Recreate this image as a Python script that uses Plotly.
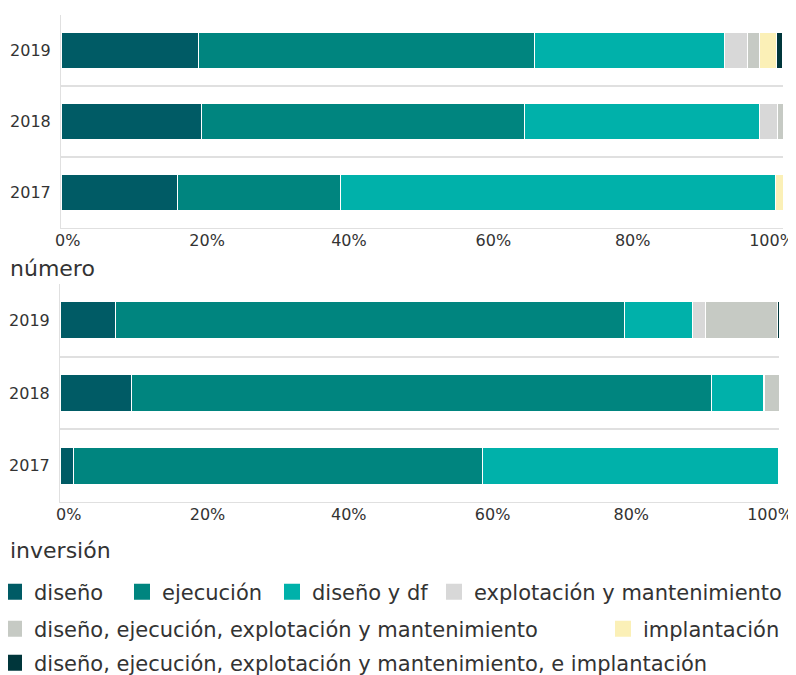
import plotly.graph_objects as go

# ---------------- data ----------------
years = ["2017", "2018", "2019"]
series_names = [
    "diseño",
    "ejecución",
    "diseño y df",
    "explotación y mantenimiento",
    "diseño, ejecución, explotación y mantenimiento",
    "implantación",
    "diseño, ejecución, explotación y mantenimiento, e implantación",
]
colors = ["#005b65", "#00857f", "#00b1aa", "#d8d8d8", "#c6cac4", "#fbf0b7", "#00363b"]

# "número" panel (% of count), order 2017, 2018, 2019
numero_diseno = [16.1, 19.4, 19.1]
numero_ejecucion = [22.6, 44.8, 46.5]
numero_diseno_df = [60.3, 32.6, 26.3]
numero_explotacion = [0.0, 2.5, 3.2]
numero_dee = [0.0, 0.7, 1.6]
numero_implantacion = [1.0, 0.0, 2.4]
numero_todo = [0.0, 0.0, 0.8]

# "inversión" panel (% of investment)
inversion_diseno = [1.85, 9.9, 7.7]
inversion_ejecucion = [56.9, 80.7, 70.8]
inversion_diseno_df = [41.2, 7.2, 9.4]
inversion_explotacion = [0.0, 0.2, 1.85]
inversion_dee = [0.0, 2.0, 10.0]
inversion_implantacion = [0.0, 0.0, 0.1]
inversion_todo = [0.0, 0.0, 0.15]

NB = "\u00a0"
tick_values = [0, 20, 40, 60, 80, 100]
tick_labels = [NB * 7 + "0%", NB * 5 + "20%", NB * 4 + "40%", NB * 4 + "60%", NB * 2 + "80%", "100%"]
panel_titles = ["número", "inversión"]

numero = [numero_diseno, numero_ejecucion, numero_diseno_df, numero_explotacion,
          numero_dee, numero_implantacion, numero_todo]
inversion = [inversion_diseno, inversion_ejecucion, inversion_diseno_df,
             inversion_explotacion, inversion_dee, inversion_implantacion, inversion_todo]

# ---------------- layout helpers ----------------
# page is 796x675, html body has an 8px margin -> figure is 788x667 at (8, 8)
OFF = 8
W, H = 796 - OFF, 675 - OFF
FONT = "DejaVu Sans"
TXT = "#333333"
GRID = "#e0e0e0"


def px(x):  # page pixel -> paper fraction
    return (x - OFF) / W


def py(y):
    return 1 - (y - OFF) / H


legend_ids = ["legend", "legend2", "legend3", "legend4", "legend5", "legend6", "legend7"]
legend_pos = [(-6, 592), (122, 592), (272, 592), (434, 592), (-6, 629), (603, 629), (-6, 663)]

fig = go.Figure()

for i, name in enumerate(series_names):
    fig.add_trace(go.Bar(
        y=years, x=numero[i], orientation="h", name=name,
        marker=dict(color=colors[i], line=dict(color="white", width=1)),
        xaxis="x", yaxis="y", showlegend=False,
        hovertemplate="%{y}: %{x:.1f}%<extra>" + name + "</extra>",
    ))
for i, name in enumerate(series_names):
    fig.add_trace(go.Bar(
        y=years, x=inversion[i], orientation="h", name=name,
        marker=dict(color=colors[i], line=dict(color="white", width=1)),
        xaxis="x2", yaxis="y2", showlegend=False,
        hovertemplate="%{y}: %{x:.1f}%<extra>" + name + "</extra>",
    ))
# legend entries (square swatches)
for i, name in enumerate(series_names):
    fig.add_trace(go.Scatter(
        x=[None], y=[None], mode="markers", name=name,
        marker=dict(symbol="square", size=16, color=colors[i]),
        xaxis="x", yaxis="y", legend=legend_ids[i], showlegend=True, hoverinfo="skip",
    ))

xcommon = dict(
    range=[0, 100], tickmode="array", tickvals=tick_values, ticktext=tick_labels,
    showgrid=False, zeroline=False, ticks="", showline=True, linecolor=GRID, linewidth=1,
    tickfont=dict(family=FONT, size=16, color=TXT), ticklabelstandoff=-2,
    fixedrange=True,
)
ycommon = dict(
    type="category", categoryorder="array", categoryarray=years, tickson="boundaries",
    showgrid=True, gridcolor=GRID, gridwidth=1.5, ticks="", showline=True,
    linecolor=GRID, linewidth=1, zeroline=False,
    tickfont=dict(family=FONT, size=16, color=TXT), ticklabelstandoff=6, fixedrange=True,
)

layout = dict(
    width=W, height=H, autosize=False,
    margin=dict(l=0, r=0, t=0, b=0, autoexpand=False),
    paper_bgcolor="white", plot_bgcolor="white",
    barmode="stack", bargap=0.49,
    font=dict(family=FONT, color=TXT),
    xaxis=dict(domain=[px(61), px(783)], anchor="y", ticklabelshift=-11, **xcommon),
    yaxis=dict(domain=[py(228), py(15)], anchor="x", **ycommon),
    xaxis2=dict(domain=[px(60), px(779)], anchor="y2", ticklabelshift=-9, **xcommon),
    yaxis2=dict(domain=[py(502), py(284)], anchor="x2", **ycommon),
    annotations=[
        dict(text=panel_titles[0], x=px(8), y=py(268), xref="paper", yref="paper",
             xanchor="left", yanchor="middle", showarrow=False,
             font=dict(family=FONT, size=22, color=TXT)),
        dict(text=panel_titles[1], x=px(8), y=py(550), xref="paper", yref="paper",
             xanchor="left", yanchor="middle", showarrow=False,
             font=dict(family=FONT, size=22, color=TXT)),
    ],
)
for lid, (lx, ly) in zip(legend_ids, legend_pos):
    layout[lid] = dict(
        x=px(lx), y=py(ly), xanchor="left", yanchor="middle",
        orientation="h", bgcolor="rgba(0,0,0,0)", borderwidth=0,
        font=dict(family=FONT, size=21, color=TXT),
        itemclick=False, itemdoubleclick=False,
    )

fig.update_layout(**layout)
fig.write_html("out.html")
